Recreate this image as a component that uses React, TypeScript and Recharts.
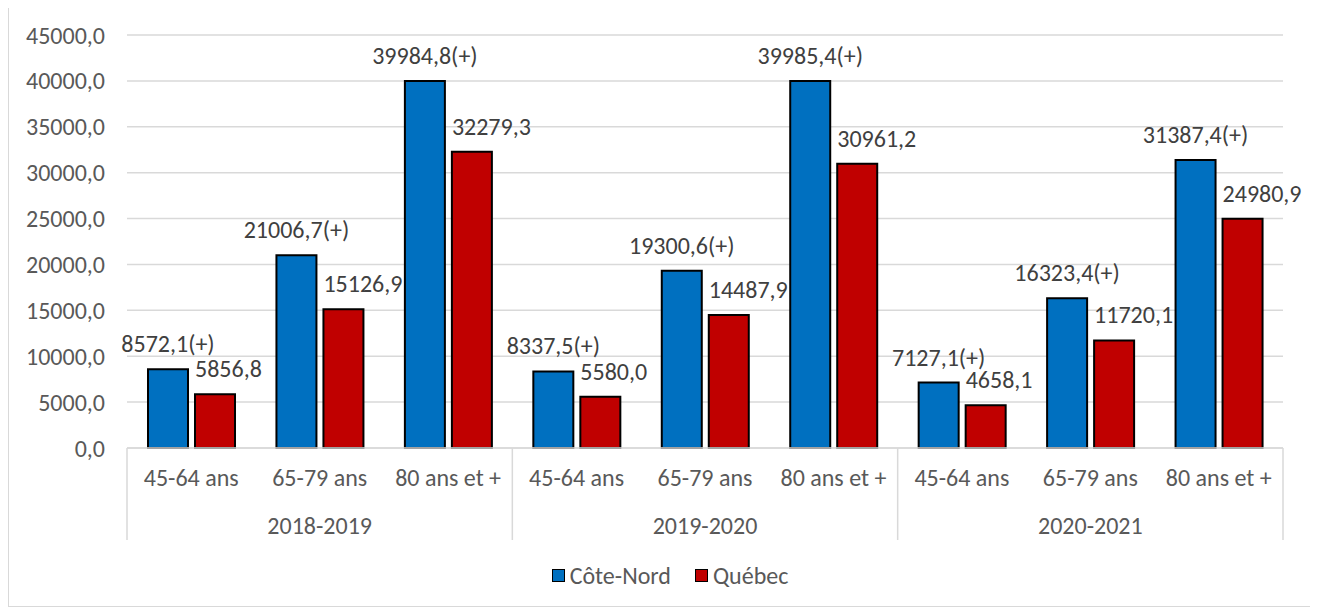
import { BarChart, Bar, XAxis, YAxis, CartesianGrid, LabelList } from "recharts";

const periods = ["2018-2019", "2019-2020", "2020-2021"];
const ageGroups = ["45-64 ans", "65-79 ans", "80 ans et +"];
const coteNord = [8572.1, 21006.7, 39984.8, 8337.5, 19300.6, 39985.4, 7127.1, 16323.4, 31387.4];
const quebec = [5856.8, 15126.9, 32279.3, 5580.0, 14487.9, 30961.2, 4658.1, 11720.1, 24980.9];
const yTicks = [0, 5000, 10000, 15000, 20000, 25000, 30000, 35000, 40000, 45000];

const data = coteNord.map((v, i) => ({
  age: ageGroups[i % ageGroups.length],
  period: periods[Math.floor(i / ageGroups.length)],
  coteNord: v,
  quebec: quebec[i],
}));

const FONT = "Carlito, Lato, sans-serif";
const FS = 24;
const BLUE = "#0070C0";
const RED = "#C00000";
const GRID = "#d9d9d9";

const W = 1302;
const H = 600;
const MARGIN = { top: 29, right: 28, bottom: 0, left: 0 };
const Y_WIDTH = 118;
const band = (W - MARGIN.right - Y_WIDTH) / data.length;

const fmt = (v: number) => v.toFixed(1).replace(".", ",");

function AxisTick(props: any) {
  const { x, y, index, payload } = props;
  const row = data[index];
  const first = index % ageGroups.length === 0;
  const middle = index % ageGroups.length === 1;
  const last = index === data.length - 1;
  return (
    <g>
      <text x={x} y={y + 38} textAnchor="middle" fill="#595959" fontSize={FS} fontFamily={FONT}>
        {payload.value}
      </text>
      {middle && (
        <text x={x} y={y + 86} textAnchor="middle" fill="#595959" fontSize={FS} fontFamily={FONT}>
          {row.period}
        </text>
      )}
      {first && <line x1={x - band / 2} x2={x - band / 2} y1={y} y2={y + 92} stroke={GRID} strokeWidth={1.5} />}
      {last && <line x1={x + band / 2} x2={x + band / 2} y1={y} y2={y + 92} stroke={GRID} strokeWidth={1.5} />}
    </g>
  );
}

function BlueLabel(props: any) {
  const { x, y, width, value } = props;
  return (
    <text x={x + width / 2} y={y - 17} textAnchor="middle" fill="#404040" fontSize={FS} fontFamily={FONT}>
      {fmt(value) + "(+)"}
    </text>
  );
}

function RedLabel(props: any) {
  const { x, y, value } = props;
  return (
    <text x={x} y={y - 17} textAnchor="start" fill="#404040" fontSize={FS} fontFamily={FONT}>
      {fmt(value)}
    </text>
  );
}

function LegendBox() {
  const item = (color: string, label: string) => (
    <div style={{ display: "flex", alignItems: "center", gap: 5 }}>
      <span style={{ width: 11, height: 11, background: color, border: "1.5px solid #000", display: "inline-block" }} />
      <span>{label}</span>
    </div>
  );
  return (
    <div
      style={{
        position: "absolute",
        left: 0,
        width: W,
        top: 555,
        display: "flex",
        justifyContent: "center",
        gap: 24,
        fontFamily: FONT,
        fontSize: FS,
        color: "#595959",
        paddingLeft: 10,
      }}
    >
      {item(BLUE, "Côte-Nord")}
      {item(RED, "Québec")}
    </div>
  );
}

export default function App() {
  return (
    <div
      style={{
        position: "relative",
        width: W,
        height: H,
        border: `1px solid ${GRID}`,
        marginTop: -3,
        background: "#fff",
      }}
    >
      <BarChart width={W} height={H - 58} data={data} margin={MARGIN} barSize={40} barGap={7}>
        <CartesianGrid vertical={false} stroke={GRID} strokeWidth={1.5} />
        <XAxis
          dataKey="age"
          interval={0}
          height={100}
          tickLine={false}
          tickSize={0}
          tickMargin={0}
          axisLine={{ stroke: GRID, strokeWidth: 1.5 }}
          tick={<AxisTick />}
        />
        <YAxis
          width={Y_WIDTH}
          domain={[0, 45000]}
          ticks={yTicks}
          axisLine={false}
          tickLine={false}
          tickSize={0}
          tickMargin={22}
          tickFormatter={fmt}
          tick={{ fill: "#595959", fontSize: FS, fontFamily: FONT }}
        />
        <Bar dataKey="coteNord" name="Côte-Nord" fill={BLUE} stroke="#000" strokeWidth={2} isAnimationActive={false}>
          <LabelList dataKey="coteNord" content={<BlueLabel />} />
        </Bar>
        <Bar dataKey="quebec" name="Québec" fill={RED} stroke="#000" strokeWidth={2} isAnimationActive={false}>
          <LabelList dataKey="quebec" content={<RedLabel />} />
        </Bar>
      </BarChart>
      <LegendBox />
    </div>
  );
}
